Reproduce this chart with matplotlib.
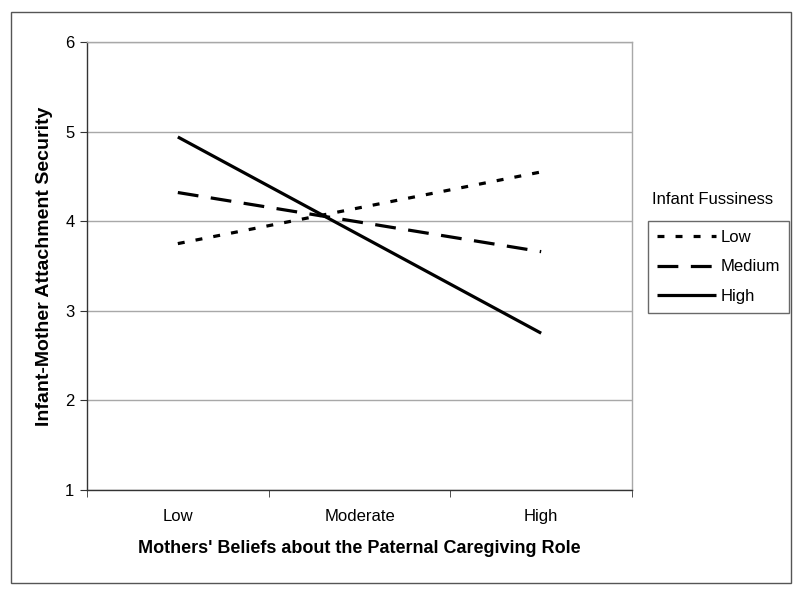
import matplotlib
matplotlib.use('Agg')
import matplotlib.pyplot as plt
from matplotlib.patches import Rectangle

plt.rcParams['font.family'] = ['Liberation Sans', 'DejaVu Sans']
plt.rcParams['lines.scale_dashes'] = False

# data
beliefs = ['Low', 'Moderate', 'High']
fussiness_low = [3.75, 4.15, 4.55]
fussiness_medium = [4.32, 3.99, 3.66]
fussiness_high = [4.94, 3.845, 2.75]
series_names = ['Low', 'Medium', 'High']
y_ticks = [1, 2, 3, 4, 5, 6]

fig = plt.figure(figsize=(8, 5.94), dpi=100)
fig.patches.append(Rectangle((11 / 800, 1 - 583 / 594), 780 / 800, 571 / 594,
                             transform=fig.transFigure, fill=False,
                             edgecolor='#555555', linewidth=1))

ax = fig.add_axes([87 / 800, 1 - 490 / 594, 545 / 800, 448 / 594])
x = list(range(len(beliefs)))

styles = [(0, (5, 8)), (0, (15, 9)), '-']
all_series = [fussiness_low, fussiness_medium, fussiness_high]
handles = []
for vals, ls, name in zip(all_series, styles, series_names):
    ln, = ax.plot(x, vals, color='black', linewidth=2.3, linestyle=ls,
                  solid_capstyle='butt', dash_capstyle='butt', label=name)
    handles.append(ln)

ax.set_xlim(-0.5, 2.5)
ax.set_ylim(1, 6)
ax.set_yticks(y_ticks)
ax.set_xticks(x)
ax.set_xticklabels(beliefs)
ax.set_xticks([-0.5, 0.5, 1.5, 2.5], minor=True)
ax.tick_params(axis='x', which='major', length=0, pad=14, labelsize=12)
ax.tick_params(axis='x', which='minor', length=5, direction='out', color='#333333')
ax.tick_params(axis='y', length=5, direction='out', pad=4, labelsize=12, color='#333333')

ax.grid(axis='y', color='#a8a8a8', linewidth=1)
ax.set_axisbelow(True)
for s in ['top', 'right']:
    ax.spines[s].set_color('#a8a8a8')
    ax.spines[s].set_linewidth(1)
for s in ['left', 'bottom']:
    ax.spines[s].set_color('#333333')
    ax.spines[s].set_linewidth(1)

ax.set_ylabel('Infant-Mother Attachment Security', fontsize=14,
              fontweight='bold', labelpad=9)
ax.set_xlabel("Mothers' Beliefs about the Paternal Caregiving Role",
              fontsize=13, fontweight='bold', labelpad=11)

fig.text(713 / 800, 1 - 200 / 594, 'Infant Fussiness', fontsize=12,
         ha='center', va='center')
leg = fig.legend(handles=handles, loc='upper left',
                 bbox_to_anchor=(648 / 800, 1 - 221 / 594),
                 frameon=True, fancybox=False, edgecolor='#444444',
                 fontsize=12, handlelength=3.5, handletextpad=0.3,
                 borderpad=0.55, labelspacing=0.85, borderaxespad=0)
leg.get_frame().set_linewidth(1)

fig.savefig('out.png', dpi=100)
